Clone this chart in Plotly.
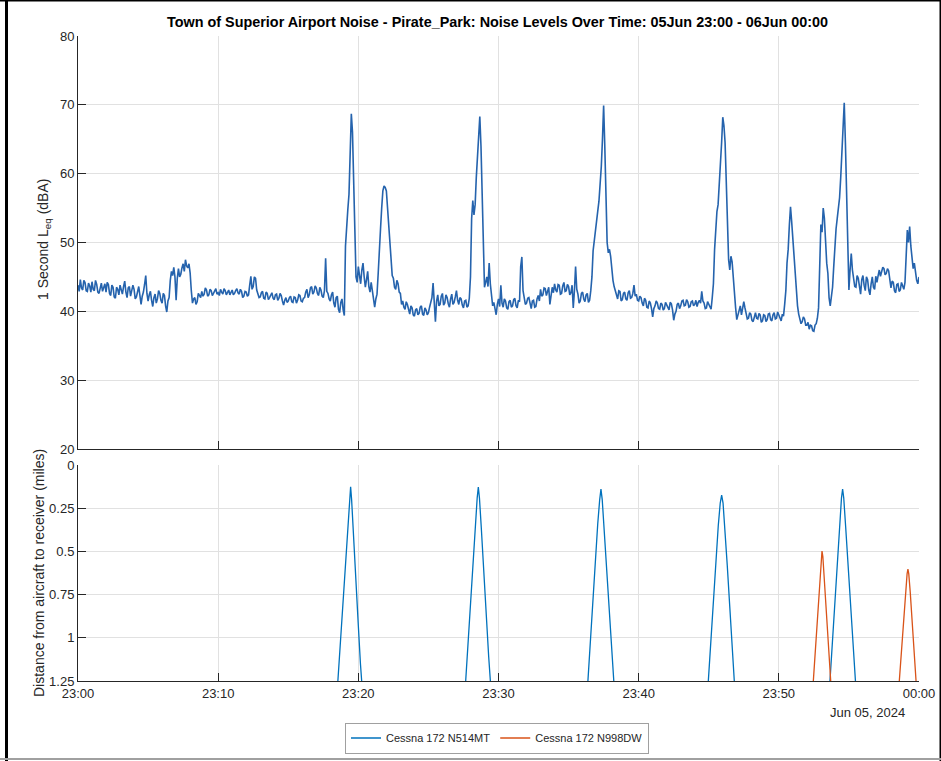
import plotly.graph_objects as go
import pandas as pd

# ---------------- data ----------------
START = "2024-06-05 23:00:00"
END = "2024-06-06 00:00:00"
LEQ_STEP_S = 5  # one value every 5 s

# 1-second Leq (dBA), read every 5 s from the picture (12 values per minute)
LEQ = [
    43.8, 42.9, 44.6, 43.4, 43.1, 44.5, 44.2, 43.0, 42.9, 44.1, 43.7, 42.8,   # 23:00
    44.3, 43.2, 43.0, 44.5, 43.9, 42.8, 42.6, 43.7, 44.1, 42.9, 43.4, 44.0,
    42.8, 44.2, 43.9, 42.6, 42.3, 43.8, 43.5, 42.1, 41.9, 43.5, 43.2, 42.4,
    43.8, 42.9, 42.5, 43.6, 44.4, 42.8, 42.0, 43.4, 43.6, 42.2, 42.9, 43.8,
    43.2, 41.8, 42.1, 43.0, 43.6, 42.3, 41.0, 42.2, 42.8, 43.9, 45.2, 42.6,
    41.5, 42.4, 42.9, 41.6, 40.7, 42.0, 42.5, 41.2, 41.8, 43.0, 42.6, 41.6,   # 23:05
    41.2, 42.6, 42.3, 40.8, 39.9, 41.5, 42.0, 44.5, 45.8, 45.2, 46.4, 45.0,
    41.6, 44.8, 46.2, 45.0, 45.4, 46.3, 46.9, 45.8, 47.5, 46.6, 46.3, 46.9,
    45.6, 43.0, 41.2, 41.8, 42.0, 41.0, 41.4, 42.6, 42.3, 42.0, 42.9, 42.2,
    42.5, 43.4, 43.1, 42.2, 42.4, 43.2, 43.0, 42.3, 42.6, 43.0, 43.3, 42.5,
    42.7, 42.3, 43.2, 42.8, 42.5, 43.3, 43.0, 42.4, 42.8, 43.1, 42.4, 42.9,   # 23:10
    43.1, 42.4, 42.6, 43.0, 43.3, 42.7, 42.5, 43.2, 42.9, 42.0, 42.2, 42.9,
    42.8, 42.2, 42.4, 43.8, 45.1, 43.2, 43.6, 45.0, 44.8, 43.1, 42.5, 42.0,
    42.1, 42.7, 42.9, 41.9, 41.8, 42.8, 42.6, 41.7, 42.0, 42.5, 42.7, 41.9,
    41.7, 42.4, 42.5, 41.6, 41.9, 42.6, 42.3, 41.5, 40.9, 41.6, 42.0, 41.3,
    41.5, 42.0, 42.2, 41.4, 41.3, 42.1, 42.0, 41.2, 41.6, 42.4, 42.3, 41.5,   # 23:15
    41.4, 41.9, 42.0, 42.8, 43.2, 42.0, 42.4, 43.4, 43.6, 42.5, 42.8, 43.7,
    43.4, 42.6, 42.3, 43.5, 43.1, 42.2, 42.0, 43.0, 47.7, 42.9, 42.6, 41.8,
    41.5, 42.4, 42.8, 41.2, 40.6, 42.0, 42.2, 40.3, 39.8, 41.3, 41.8, 40.2,
    39.4, 49.5, 53.2, 54.8, 57.0, 62.5, 68.7, 66.0, 60.5, 52.0, 45.0, 44.2,
    46.5, 45.2, 44.0, 46.0, 47.0, 45.0, 43.5, 44.6, 45.8, 43.6, 42.8, 44.2,   # 23:20
    43.0, 41.2, 40.6, 41.8, 42.5, 45.5, 48.0, 52.0, 55.0, 57.5, 58.2, 58.0,
    57.5, 55.0, 52.5, 49.0, 46.5, 45.2, 44.8, 43.5, 43.2, 44.5, 44.0, 42.8,
    42.6, 41.0, 41.5, 40.6, 40.3, 41.4, 41.0, 40.0, 39.6, 40.8, 40.5, 39.5,
    39.3, 40.2, 40.4, 39.5, 39.7, 40.6, 40.8, 39.6, 39.4, 40.5, 40.2, 39.5,
    39.8, 40.6, 41.5, 42.0, 44.1, 41.0, 38.5, 41.5, 42.4, 40.8, 41.0, 42.2,   # 23:25
    42.6, 40.9, 41.2, 42.4, 42.0, 41.1, 40.6, 41.8, 42.5, 41.0, 41.3, 42.1,
    43.0, 41.6, 41.0, 42.0, 41.8, 40.9, 40.5, 41.5, 41.6, 40.6, 40.8, 41.9,
    45.0, 53.5, 56.1, 54.0, 55.5, 59.5, 63.0, 66.0, 68.3, 64.0, 58.0, 50.0,
    43.5, 44.2, 45.0, 43.6, 47.0, 44.0, 42.0, 40.8, 41.3, 40.4, 39.5, 41.0,
    41.8, 40.7, 43.8, 41.2, 40.6, 41.8, 41.5, 40.5, 40.3, 41.4, 41.6, 40.6,   # 23:30
    40.8, 41.7, 41.9, 40.8, 40.5, 41.6, 41.4, 46.5, 47.9, 43.0, 42.0, 41.0,
    41.2, 41.9, 42.0, 40.9, 40.4, 41.5, 41.6, 40.6, 40.7, 41.8, 42.3, 41.5,
    43.2, 42.2, 42.4, 43.4, 43.3, 42.3, 42.8, 43.5, 41.0, 42.6, 43.5, 42.7,
    44.0, 43.1, 42.8, 43.9, 43.8, 42.5, 42.6, 43.7, 44.2, 42.9, 43.0, 43.9,
    43.6, 42.4, 42.7, 43.8, 40.5, 43.0, 46.5, 43.2, 42.5, 41.2, 41.5, 42.6,   # 23:35
    42.8, 41.8, 41.4, 42.4, 42.6, 41.3, 41.6, 43.0, 45.0, 48.8, 50.5, 52.0,
    53.5, 54.6, 56.0, 58.0, 61.0, 65.0, 69.9, 64.0, 57.0, 50.0, 48.5, 49.0,
    48.0, 46.0, 44.5, 43.6, 43.0, 42.2, 41.8, 43.0, 42.9, 41.5, 41.7, 42.6,
    42.8, 41.8, 41.6, 42.7, 43.0, 41.9, 42.0, 42.6, 43.8, 42.2, 42.5, 41.6,
    41.5, 42.2, 42.0, 41.2, 40.8, 41.9, 41.6, 40.6, 40.5, 41.5, 41.2, 40.4,   # 23:40
    39.2, 40.4, 40.8, 41.5, 41.2, 40.4, 40.3, 41.2, 41.0, 40.2, 40.4, 41.3,
    41.0, 40.6, 40.2, 41.3, 41.1, 40.2, 38.7, 39.6, 40.0, 41.0, 41.2, 40.4,
    40.8, 41.5, 41.6, 40.8, 40.9, 41.7, 41.4, 40.6, 40.7, 41.4, 41.5, 40.8,
    41.0, 41.6, 40.7, 41.3, 41.6, 41.2, 42.9, 41.5, 41.2, 40.4, 40.5, 41.4,
    41.0, 40.6, 40.3, 42.0, 44.0, 49.0, 51.8, 54.5, 55.5, 58.0, 60.5, 64.5,   # 23:45
    68.2, 67.0, 64.5, 58.0, 52.0, 47.5, 46.0, 48.0, 47.2, 44.5, 42.0, 40.5,
    38.8, 39.5, 40.2, 40.8, 39.5, 40.6, 41.4, 40.5, 39.8, 38.9, 39.0, 39.8,
    39.6, 38.7, 38.5, 39.4, 39.8, 39.0, 38.9, 39.7, 39.5, 38.4, 38.6, 39.5,
    39.4, 38.5, 38.8, 39.6, 39.7, 38.8, 38.6, 39.5, 39.8, 38.9, 39.0, 39.9,
    39.5, 38.9, 38.6, 39.6, 39.3, 41.0, 43.0, 47.0, 49.0, 52.5, 55.2, 53.0,   # 23:50
    50.5, 48.0, 45.5, 42.5, 40.8, 39.6, 39.0, 38.2, 38.5, 39.2, 38.9, 38.0,
    38.0, 38.4, 37.4, 38.0, 37.9, 37.2, 37.1, 38.0, 38.2, 39.0, 40.5, 47.0,
    52.6, 51.5, 55.0, 53.5, 50.0, 47.0, 45.5, 42.0, 40.8, 42.6, 43.5, 46.5,
    49.5, 52.0, 53.5, 55.0, 56.5, 59.5, 62.5, 67.0, 70.3, 64.5, 57.6, 49.0,
    43.1, 46.0, 48.4, 46.0, 45.0, 43.6, 43.5, 45.2, 44.8, 43.2, 42.5, 44.6,   # 23:55
    45.2, 43.8, 43.0, 45.0, 44.6, 43.1, 42.4, 44.0, 45.0, 43.5, 43.2, 45.1,
    44.2, 45.2, 46.0, 45.1, 45.6, 46.4, 46.2, 45.3, 45.5, 46.2, 45.9, 44.6,
    43.4, 44.4, 44.2, 43.0, 42.7, 43.9, 44.0, 42.9, 43.1, 44.2, 43.8, 43.2,
    44.2, 49.5, 51.8, 50.0, 52.3, 49.5, 48.0, 46.2, 47.0, 45.2, 44.5, 44.0,
    45.0,                                                                     # 00:00
]

# distance tracks: minutes after 23:00 and distance in miles (None = gap)
N514MT_MIN = [
    18.50, 18.70, 18.90, 19.10, 19.25, 19.38, 19.45, 19.52, 19.65, 19.80, 20.00, 20.15, 20.30, None,
    27.62, 27.80, 28.00, 28.20, 28.35, 28.48, 28.56, 28.64, 28.77, 28.92, 29.10, 29.30, 29.48, None,
    36.34, 36.52, 36.72, 36.92, 37.08, 37.22, 37.31, 37.40, 37.54, 37.70, 37.88, 38.06, 38.28, None,
    44.93, 45.12, 45.32, 45.52, 45.68, 45.82, 45.92, 46.02, 46.16, 46.32, 46.50, 46.68, 46.86, None,
    53.61, 53.80, 54.00, 54.20, 54.36, 54.47, 54.55, 54.63, 54.77, 54.93, 55.12, 55.30, 55.52,
]
N514MT_DIST = [
    1.30, 1.05, 0.80, 0.55, 0.36, 0.20, 0.126, 0.20, 0.38, 0.62, 0.93, 1.15, 1.32, None,
    1.30, 1.06, 0.80, 0.53, 0.34, 0.19, 0.127, 0.19, 0.36, 0.58, 0.84, 1.11, 1.32, None,
    1.30, 1.06, 0.80, 0.53, 0.34, 0.20, 0.14, 0.20, 0.37, 0.58, 0.82, 1.06, 1.32, None,
    1.30, 1.05, 0.79, 0.53, 0.35, 0.22, 0.174, 0.22, 0.37, 0.58, 0.82, 1.06, 1.30, None,
    1.30, 1.05, 0.79, 0.52, 0.33, 0.19, 0.139, 0.19, 0.36, 0.58, 0.83, 1.07, 1.32,
]
N998DW_MIN = [
    52.42, 52.60, 52.78, 52.92, 53.02, 53.08, 53.14, 53.24, 53.38, 53.56, 53.74, None,
    58.55, 58.72, 58.90, 59.05, 59.15, 59.21, 59.27, 59.37, 59.52, 59.68, 59.83,
]
N998DW_DIST = [
    1.30, 1.08, 0.86, 0.66, 0.53, 0.498, 0.53, 0.66, 0.85, 1.08, 1.30, None,
    1.30, 1.10, 0.88, 0.72, 0.63, 0.602, 0.63, 0.73, 0.91, 1.11, 1.30,
]

LEQ_TICKS = [20, 30, 40, 50, 60, 70, 80]
DIST_TICKS = [0, 0.25, 0.5, 0.75, 1, 1.25]
DIST_TICKTEXT = ["0", "0.25", "0.5", "0.75", "1", "1.25"]
TITLE = "Town of Superior Airport Noise - Pirate_Park: Noise Levels Over Time: 05Jun 23:00 - 06Jun 00:00"
DATE_LABEL = "Jun 05, 2024"
NAME_A = "Cessna 172 N514MT"
NAME_B = "Cessna 172 N998DW"

# ---------------- build ----------------
t0 = pd.Timestamp(START)
leq_t = [t0 + pd.Timedelta(seconds=i * LEQ_STEP_S) for i in range(len(LEQ))]


def to_time(mins):
    return [None if m is None else t0 + pd.Timedelta(minutes=m) for m in mins]


W, H = 941, 761
FONT = "Liberation Sans, Arial, sans-serif"
AX = "#262626"
GRID = "#e1e1e1"

fig = go.Figure()
fig.add_trace(go.Scatter(x=leq_t, y=LEQ, mode="lines", line=dict(color="#2563ad", width=1.6),
                         showlegend=False, xaxis="x", yaxis="y"))
fig.add_trace(go.Scatter(x=to_time(N514MT_MIN), y=N514MT_DIST, mode="lines", name=NAME_A,
                         line=dict(color="#0072BD", width=1.3), connectgaps=False,
                         xaxis="x2", yaxis="y2"))
fig.add_trace(go.Scatter(x=to_time(N998DW_MIN), y=N998DW_DIST, mode="lines", name=NAME_B,
                         line=dict(color="#D95319", width=1.3), connectgaps=False,
                         xaxis="x2", yaxis="y2"))

xl, xr = 78 / W, 919 / W
common_x = dict(domain=[xl, xr], range=[t0, pd.Timestamp(END)], type="date",
                dtick=600000, tick0=t0, showgrid=True, gridcolor=GRID, gridwidth=1,
                showline=True, linecolor=AX, linewidth=1, ticks="inside", ticklen=8,
                tickcolor=AX, zeroline=False,
                tickfont=dict(family=FONT, size=13, color=AX))
common_y = dict(showgrid=True, gridcolor=GRID, gridwidth=1, showline=True, linecolor=AX,
                linewidth=1, ticks="inside", ticklen=8, tickcolor=AX, zeroline=False,
                tickfont=dict(family=FONT, size=13, color=AX))

fig.update_layout(
    autosize=True, margin=dict(l=0, r=0, t=0, b=0, autoexpand=False),
    paper_bgcolor="white", plot_bgcolor="white",
    font=dict(family=FONT, color=AX),
    xaxis=dict(**common_x, anchor="y", showticklabels=False),
    yaxis=dict(**common_y, domain=[1 - 449 / H, 1 - 36 / H], range=[20, 80],
               tickvals=LEQ_TICKS, anchor="x"),
    xaxis2=dict(**common_x, anchor="y2", matches="x", tickformat="%H:%M"),
    yaxis2=dict(**common_y, domain=[1 - 681 / H, 1 - 465 / H], range=[1.25, 0],
                tickvals=DIST_TICKS, ticktext=DIST_TICKTEXT, anchor="x2"),
    legend=dict(orientation="h", x=497 / W, xanchor="center", y=1 - 738 / H, yanchor="middle",
                bordercolor="#a0a0a0", borderwidth=1, bgcolor="white",
                font=dict(family=FONT, size=11, color=AX), itemwidth=30, tracegroupgap=0),
    showlegend=True,
)

fig.add_annotation(text="<b>" + TITLE + "</b>", x=497 / W, y=1 - 22 / H, xref="paper", yref="paper",
                   showarrow=False, xanchor="center", yanchor="middle",
                   font=dict(family=FONT, size=14.4, color="black"))
fig.add_annotation(text="1 Second L<sub>eq</sub> (dBA)", x=44 / W, y=1 - 240 / H, xref="paper",
                   yref="paper", showarrow=False, textangle=-90, xanchor="center", yanchor="middle",
                   font=dict(family=FONT, size=14, color=AX))
fig.add_annotation(text="Distance from aircraft to receiver (miles)", x=39 / W, y=1 - 573 / H,
                   xref="paper", yref="paper", showarrow=False, textangle=-90, xanchor="center",
                   yanchor="middle", font=dict(family=FONT, size=14, color=AX))
fig.add_annotation(text=DATE_LABEL, x=907 / W, y=1 - 712 / H, xref="paper", yref="paper",
                   showarrow=False, xanchor="right", yanchor="middle",
                   font=dict(family=FONT, size=13, color=AX))

# figure frame
fig.add_shape(type="line", xref="paper", yref="paper", x0=6.5 / W, x1=6.5 / W, y0=0, y1=1,
              line=dict(color="black", width=3))
fig.add_shape(type="line", xref="paper", yref="paper", x0=0, x1=1, y0=1, y1=1,
              line=dict(color="black", width=3))
fig.add_shape(type="line", xref="paper", yref="paper", x0=1, x1=1, y0=0, y1=1,
              line=dict(color="black", width=3))
fig.add_shape(type="line", xref="paper", yref="paper", x0=0, x1=1, y0=1 - 759 / H, y1=1 - 759 / H,
              line=dict(color="#a0a0a0", width=2))

fig.write_html(
    "out.html",
    default_width="100vw", default_height="100vh",
    config=dict(displayModeBar=False, responsive=True),
    post_script="document.documentElement.style.margin='0';document.documentElement.style.overflow='hidden';"
                "document.body.style.margin='0';document.body.style.padding='0';document.body.style.overflow='hidden';"
                "window.dispatchEvent(new Event('resize'));",
)
